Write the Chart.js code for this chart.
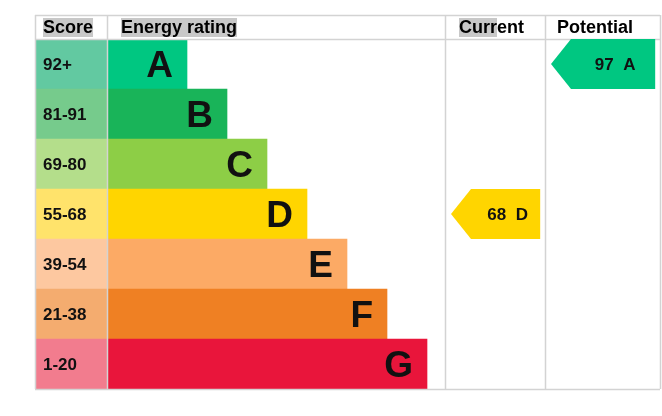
<!DOCTYPE html>
<html lang="en">
<head>
<meta charset="UTF-8">
<title>Energy rating</title>
<style>
  body { margin: 0; background: #fff; }
  #wrap { width: 662px; height: 416px; }
</style>
</head>
<body>
<script src="https://cdn.jsdelivr.net/npm/chart.js"></script>
<div id="wrap"><canvas id="epc"></canvas></div>
<script>
// bands, top to bottom
const bands = ["A", "B", "C", "D", "E", "F", "G"];
const scoreRanges = ["92+", "81-91", "69-80", "55-68", "39-54", "21-38", "1-20"];
const bandLengths = [2, 3, 4, 5, 6, 7, 8];
const bandColors = ["#00c781", "#19b459", "#8dce46", "#ffd500", "#fcaa65", "#ef8023", "#e9153b"];
const scoreColors = ["#62c9a1", "#76cb8c", "#b4de8b", "#ffe36b", "#fdc8a0", "#f4ac6f", "#f27c8e"];
const currentScore = 68, currentBand = "D";
const potentialScore = 97, potentialBand = "A";

// column boundaries in chart units
const cols = { left: -1.8, rating: 0, current: 8.45, potential: 10.95, right: 13.825 };

const font = "'Liberation Sans', Arial, sans-serif";

const epcPlugin = {
  id: "epc",
  afterDatasetsDraw(chart) {
    const ctx = chart.ctx, x = chart.scales.x, y = chart.scales.y;
    const top = 15, head = chart.chartArea.top, bottom = chart.chartArea.bottom;
    ctx.save();
    // grid
    ctx.strokeStyle = "#d3d3d3";
    ctx.lineWidth = 1.5;
    ctx.beginPath();
    [cols.left, cols.rating, cols.current, cols.potential, cols.right].forEach(v => {
      const px = Math.round(x.getPixelForValue(v)) + 0.5;
      ctx.moveTo(px, top); ctx.lineTo(px, bottom);
    });
    [top, head, bottom].forEach(py => {
      ctx.moveTo(x.getPixelForValue(cols.left), py + 0.5);
      ctx.lineTo(x.getPixelForValue(cols.right), py + 0.5);
    });
    ctx.stroke();

    // headers
    ctx.font = "bold 18px " + font;
    ctx.textBaseline = "middle";
    const hy = (top + head) / 2 + 1;
    function header(text, px, hl) {
      const w = ctx.measureText(hl).width;
      ctx.fillStyle = "#c8c8c8";
      ctx.fillRect(px, top + 3, w, head - top - 5);
      ctx.fillStyle = "#000";
      ctx.fillText(text, px, hy);
    }
    ctx.textAlign = "left";
    header("Score", x.getPixelForValue(cols.left) + 8, "Score");
    header("Energy rating", x.getPixelForValue(cols.rating) + 14, "Energy rating");
    header("Current", x.getPixelForValue(cols.current) + 14, "Curr");
    header("Potential", x.getPixelForValue(cols.potential) + 12, "");

    // score labels and band letters
    bands.forEach((b, i) => {
      const cy = y.getPixelForValue(i);
      ctx.fillStyle = "#111";
      ctx.textAlign = "left";
      ctx.font = "bold 17px " + font;
      ctx.fillText(scoreRanges[i], x.getPixelForValue(cols.left) + 8, cy + 1);
      ctx.textAlign = "right";
      ctx.font = "bold 37px " + font;
      ctx.fillText(b, x.getPixelForValue(bandLengths[i]) - 14, cy + 3);
    });

    // arrows
    function arrow(score, band, c0, c1) {
      const i = bands.indexOf(band);
      const cy = y.getPixelForValue(i);
      const h = 25;
      const tip = x.getPixelForValue(c0 + 0.15), right = x.getPixelForValue(c1 - 0.12);
      const body = tip + 20;
      ctx.fillStyle = bandColors[i];
      ctx.beginPath();
      ctx.moveTo(tip, cy);
      ctx.lineTo(body, cy - h);
      ctx.lineTo(right, cy - h);
      ctx.lineTo(right, cy + h);
      ctx.lineTo(body, cy + h);
      ctx.closePath();
      ctx.fill();
      ctx.fillStyle = "#111";
      ctx.font = "bold 17px " + font;
      ctx.textAlign = "center";
      ctx.fillText(score + "  " + band, (body + right) / 2 + 2, cy + 1);
    }
    arrow(currentScore, currentBand, cols.current, cols.potential);
    arrow(potentialScore, potentialBand, cols.potential, cols.right);
    ctx.restore();
  }
};

new Chart(document.getElementById("epc"), {
  type: "bar",
  data: {
    labels: bands,
    datasets: [
      { data: bands.map(() => [cols.left, cols.rating]), backgroundColor: scoreColors },
      { data: bandLengths.map(l => [cols.rating, l]), backgroundColor: bandColors }
    ]
  },
  options: {
    indexAxis: "y",
    responsive: true,
    maintainAspectRatio: false,
    animation: false,
    layout: { padding: { left: 35, right: 2, top: 39, bottom: 27 } },
    datasets: { bar: { grouped: false, barPercentage: 1, categoryPercentage: 1, borderWidth: 0 } },
    scales: {
      x: { display: false, min: cols.left, max: cols.right },
      y: { display: false }
    },
    plugins: { legend: { display: false }, tooltip: { enabled: false } }
  },
  plugins: [epcPlugin]
});
</script>
</body>
</html>
